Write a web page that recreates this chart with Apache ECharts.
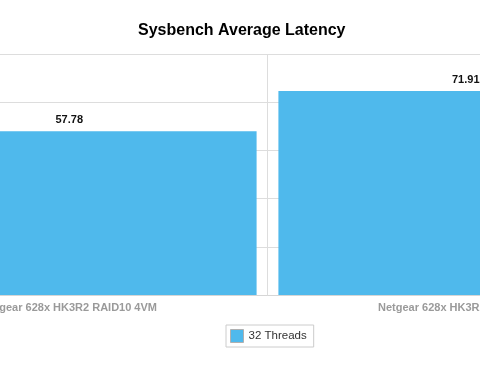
<!DOCTYPE html>
<html>
<head>
<meta charset="utf-8">
<script src="https://cdn.jsdelivr.net/npm/echarts@6/dist/echarts.min.js"></script>
<style>
html,body{margin:0;padding:0;background:#fff;overflow:hidden;width:480px;height:375px;}
#wrap{position:relative;width:480px;height:375px;overflow:hidden;}
#chart{position:absolute;left:-129px;top:0;width:793px;height:375px;}
</style>
</head>
<body>
<div id="wrap"><div id="chart"></div></div>
<script>
var titleText = 'Sysbench Average Latency';
var categories = ['Netgear 628x HK3R2 RAID10 4VM', 'Netgear 628x HK3R2 RAID10 8VM'];
var seriesName = '32 Threads';
var values = [57.78, 71.91];
var yMin = 0, yMax = 85, yInterval = 17;

var OFFSET = 129;
var FONT = '"Liberation Sans", Arial, Helvetica, sans-serif';
var chart = echarts.init(document.getElementById('chart'), null, {renderer: 'canvas'});
chart.setOption({
  animation: false,
  backgroundColor: '#ffffff',
  title: {
    text: titleText,
    left: 138 + OFFSET, top: 23, padding: 0,
    textStyle: {fontFamily: FONT, fontSize: 16, fontWeight: 'bold', color: '#000'}
  },
  legend: {
    data: [seriesName],
    left: 226 + OFFSET, top: 325,
    orient: 'horizontal',
    borderColor: '#cccccc', borderWidth: 1, borderRadius: 0,
    padding: [4, 7, 4, 4],
    itemWidth: 13, itemHeight: 13,
    icon: 'rect',
    itemStyle: {borderColor: '#b0b0b0', borderWidth: 1},
    textStyle: {fontFamily: FONT, fontSize: 11.5, color: '#333'}
  },
  grid: {left: 0, right: 0, top: 54, bottom: 80, containLabel: false},
  xAxis: {
    type: 'category',
    data: categories,
    axisLine: {show: true, lineStyle: {color: '#d6d6d6', width: 1}},
    axisTick: {show: false},
    splitLine: {show: true, lineStyle: {color: '#dddddd', width: 1}},
    axisLabel: {
      margin: 7, interval: 0,
      fontFamily: FONT, fontSize: 11, fontWeight: 'bold', color: '#9a9a9a'
    }
  },
  yAxis: {
    type: 'value',
    min: yMin, max: yMax, interval: yInterval,
    axisLine: {show: false},
    axisTick: {show: false},
    axisLabel: {show: false},
    splitLine: {show: true, lineStyle: {color: '#dddddd', width: 1}}
  },
  series: [{
    name: seriesName,
    type: 'bar',
    data: values,
    barCategoryGap: '5.5%',
    itemStyle: {color: '#4fb9ec'},
    label: {
      show: true, position: 'top', distance: 6,
      fontFamily: FONT, fontSize: 11, fontWeight: 'bold', color: '#111',
      formatter: function(p){ return p.value.toFixed(2); }
    }
  }]
});
</script>
</body>
</html>
